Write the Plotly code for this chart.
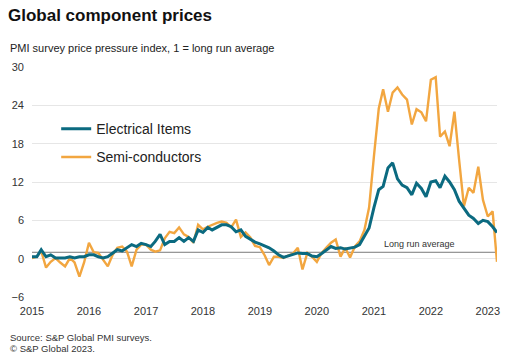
import pandas as pd
import plotly.graph_objects as go

# ---- data (monthly, Jan 2015 - Mar 2023) ----
START = "2015-01-01"
N_MONTHS = 99
dates = pd.date_range(START, periods=N_MONTHS, freq="MS")

electrical_items = [
    0.3, 0.3, 1.4, 0.3, 0.6, 0.1, 0.1, 0.1, 0.3, 0.1, 0.3, 0.3,      # 2015
    0.6, 0.6, 0.3, 0.1, 0.3, 0.9, 1.4, 1.2, 1.7, 2.2, 1.9, 2.4,      # 2016
    2.2, 1.9, 2.7, 3.8, 2.2, 2.7, 2.7, 3.3, 2.7, 3.3, 2.7, 4.5,      # 2017
    4.1, 4.9, 4.5, 4.9, 5.3, 5.3, 5.0, 4.2, 4.5, 3.5, 3.0, 2.6,      # 2018
    2.3, 2.0, 1.7, 1.2, 0.6, 0.2, 0.4, 0.6, 0.9, 0.8, 0.8, 0.4,      # 2019
    0.3, 0.8, 1.4, 1.9, 1.6, 1.7, 1.5, 1.6, 1.8, 2.2, 3.5, 4.8,      # 2020
    8.0, 10.8, 11.3, 14.2, 15.0, 12.5, 11.5, 11.1, 10.0, 11.8, 11.0, 9.7,  # 2021
    12.0, 12.2, 11.1, 12.9, 12.0, 10.8, 9.0, 7.8, 6.8, 6.3, 5.5, 6.0,     # 2022
    5.8, 5.0, 4.1,                                                   # 2023
]

semi_conductors = [
    0.1, 0.3, 1.2, -1.4, -0.5, 0.1, -0.6, -1.2, 0.1, -0.6, -2.8, -0.6,   # 2015
    2.5, 1.0, 0.9, -0.2, -1.2, 0.6, 1.7, 1.9, 1.1, -1.2, 1.4, 2.2,       # 2016
    2.2, 1.4, 1.1, 1.3, 3.2, 4.2, 4.0, 4.9, 3.8, 3.4, 2.5, 5.3,          # 2017
    4.6, 5.0, 5.3, 5.6, 5.8, 5.6, 4.9, 6.1, 3.4, 4.1, 3.3, 2.0,          # 2018
    1.8, 0.5, -1.0, 0.3, 0.3, 0.1, 0.5, 0.8, 1.7, -1.7, 0.9, 0.3,        # 2019
    -0.5, 0.9, 1.7, 2.5, 3.0, 0.3, 1.7, 0.2, 1.9, 2.7, 4.5, 8.0,         # 2020
    16.0, 23.5, 26.5, 23.0, 26.0, 26.8, 25.7, 24.9, 21.0, 23.4, 22.9, 21.5,  # 2021
    28.0, 28.4, 19.1, 19.9, 17.6, 23.0, 15.5, 8.2, 11.1, 10.3, 14.4, 9.2,    # 2022
    6.6, 7.4, -0.5,                                                      # 2023
]

LONG_RUN_AVG = 1
Y_TICKS = [-6, 0, 6, 12, 18, 24, 30]
SERIES_NAMES = ["Electrical Items", "Semi-conductors"]

TEAL = "#0b6a80"
ORANGE = "#f2a640"
FONT = "Arial, Liberation Sans, sans-serif"

fig = go.Figure()

fig.add_trace(go.Scatter(
    x=dates, y=[LONG_RUN_AVG] * len(dates), mode="lines",
    line=dict(color="#7a7a7a", width=1), showlegend=False, hoverinfo="skip",
))
fig.add_trace(go.Scatter(
    x=dates, y=semi_conductors, mode="lines", name=SERIES_NAMES[1],
    line=dict(color=ORANGE, width=2.4), legendgroup="b", legendrank=2,
))
fig.add_trace(go.Scatter(
    x=dates, y=electrical_items, mode="lines", name=SERIES_NAMES[0],
    line=dict(color=TEAL, width=3), legendgroup="a", legendrank=1,
))

fig.update_layout(
    width=519, height=363,
    margin=dict(l=32, r=22, t=67, b=66),
    paper_bgcolor="white", plot_bgcolor="white",
    font=dict(family=FONT, color="#333333", size=11),
    title=dict(
        text="<b>Global component prices</b>",
        font=dict(family=FONT, size=17, color="#111111"),
        xref="container", yref="container", x=8 / 519, xanchor="left",
        y=1 - 15 / 363, yanchor="middle",
    ),
    showlegend=True,
    legend=dict(
        x=0.052, y=0.799, xanchor="left", yanchor="top",
        bgcolor="rgba(0,0,0,0)", font=dict(size=14, color="#222222", family=FONT),
        traceorder="grouped", tracegroupgap=7, itemwidth=30,
    ),
    xaxis=dict(
        type="date", range=[dates[0], dates[-1]],
        tickformat="%Y", dtick="M12", tick0=START,
        showgrid=False, zeroline=False, showline=False, ticks="",
        tickfont=dict(size=11, color="#333333"),
        ticklabelstandoff=6,
        fixedrange=True,
    ),
    yaxis=dict(
        range=[Y_TICKS[0], Y_TICKS[-1]], tickvals=Y_TICKS,
        showgrid=True, gridcolor="#e6e6e6", gridwidth=1,
        zeroline=False, showline=False, ticks="",
        tickfont=dict(size=11, color="#333333"),
        ticklabelstandoff=7,
    ),
)

fig.add_annotation(
    text="PMI survey price pressure index, 1 = long run average",
    xref="paper", yref="paper", x=-24 / 465, y=(297 - 48) / 230,
    xanchor="left", yanchor="middle", showarrow=False,
    font=dict(size=11, color="#222222", family=FONT),
)
fig.add_annotation(
    text="Source: S&P Global PMI surveys.",
    xref="paper", yref="paper", x=-24 / 465, y=(297 - 337) / 230,
    xanchor="left", yanchor="middle", showarrow=False,
    font=dict(size=9.5, color="#333333", family=FONT),
)
fig.add_annotation(
    text="© S&P Global 2023.",
    xref="paper", yref="paper", x=-24 / 465, y=(297 - 348) / 230,
    xanchor="left", yanchor="middle", showarrow=False,
    font=dict(size=9.5, color="#333333", family=FONT),
)
fig.add_annotation(
    text="Long run average",
    x="2021-10-20", y=LONG_RUN_AVG, xref="x", yref="y",
    xanchor="center", yanchor="bottom", yshift=1, showarrow=False,
    font=dict(size=9, color="#333333", family=FONT),
)

fig.write_html(
    "out.html",
    config={"displayModeBar": False},
    post_script="document.body.style.margin='0';document.body.style.overflow='hidden';",
)
